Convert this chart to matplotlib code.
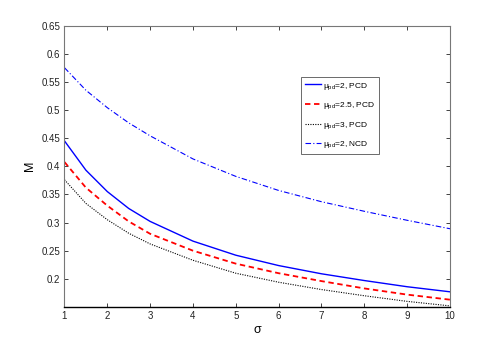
import matplotlib
matplotlib.use("Agg")
import matplotlib.pyplot as plt

plt.rcParams['font.family'] = ['Liberation Sans', 'DejaVu Sans']
plt.rcParams['mathtext.fontset'] = 'custom'
plt.rcParams['mathtext.it'] = 'Liberation Sans'
plt.rcParams['mathtext.rm'] = 'Liberation Sans'

sigma = [1, 1.5, 2, 2.5, 3, 4, 5, 6, 7, 8, 9, 10]
m_pcd_2 = [0.445, 0.393, 0.355, 0.325, 0.302, 0.267, 0.242, 0.2236, 0.209, 0.197, 0.186, 0.177]
m_pcd_25 = [0.4075, 0.362, 0.330, 0.302, 0.280, 0.250, 0.227, 0.210, 0.196, 0.183, 0.172, 0.163]
m_pcd_3 = [0.376, 0.334, 0.305, 0.281, 0.262, 0.233, 0.210, 0.194, 0.181, 0.170, 0.160, 0.152]
m_ncd_2 = [0.575, 0.535, 0.504, 0.477, 0.454, 0.413, 0.382, 0.357, 0.337, 0.320, 0.304, 0.289]

labels = [r'$\mu_{pd}$=2, PCD', r'$\mu_{pd}$=2.5, PCD', r'$\mu_{pd}$=3, PCD', r'$\mu_{pd}$=2, NCD']
xticks = [1, 2, 3, 4, 5, 6, 7, 8, 9, 10]
yticks = [0.2, 0.25, 0.3, 0.35, 0.4, 0.45, 0.5, 0.55, 0.6, 0.65]

fig = plt.figure(figsize=(4.98, 3.46), dpi=100)
ax = fig.add_axes([0.1295, 0.1127, 0.7741, 0.8136])

ax.plot(sigma, m_pcd_2, color='#0000ff', linestyle='-', lw=1.0, label=labels[0])
ax.plot(sigma, m_pcd_25, color='#ff0000', linestyle=(0, (3, 2)), lw=1.3, label=labels[1])
ax.plot(sigma, m_pcd_3, color='black', linestyle=(0, (1, 1.2)), lw=0.8, label=labels[2])
ax.plot(sigma, m_ncd_2, color='#0000ff', linestyle=(0, (5, 2, 1, 2)), lw=0.8, label=labels[3])

ax.set_xlim(1, 10)
ax.set_ylim(0.15, 0.65)
ax.set_xticks(xticks)
ax.set_xticklabels([str(v) for v in xticks])
ax.set_yticks(yticks)
ax.set_yticklabels(['0.2', '0.25', '0.3', '0.35', '0.4', '0.45', '0.5', '0.55', '0.6', '0.65'])
ax.tick_params(direction='in', length=3, width=0.6, top=True, right=True,
               labelsize=7, colors='#222222', pad=3)
for side in ['top', 'left', 'right']:
    ax.spines[side].set_color('#777777')
    ax.spines[side].set_linewidth(0.8)
ax.spines['bottom'].set_color('black')
ax.spines['bottom'].set_linewidth(1.0)

ax.set_xlabel('σ', fontsize=9, labelpad=2)
ax.set_ylabel('M', fontsize=9, labelpad=4)

leg = ax.legend(loc='upper left', bbox_to_anchor=(0.613, 0.817), fontsize=6,
                handlelength=2.0, handletextpad=0.2, labelspacing=1.05,
                borderpad=0.45, frameon=True, fancybox=False, borderaxespad=0)
leg.get_frame().set_edgecolor('#444444')
leg.get_frame().set_linewidth(0.7)

fig.savefig('out.png', dpi=100)
